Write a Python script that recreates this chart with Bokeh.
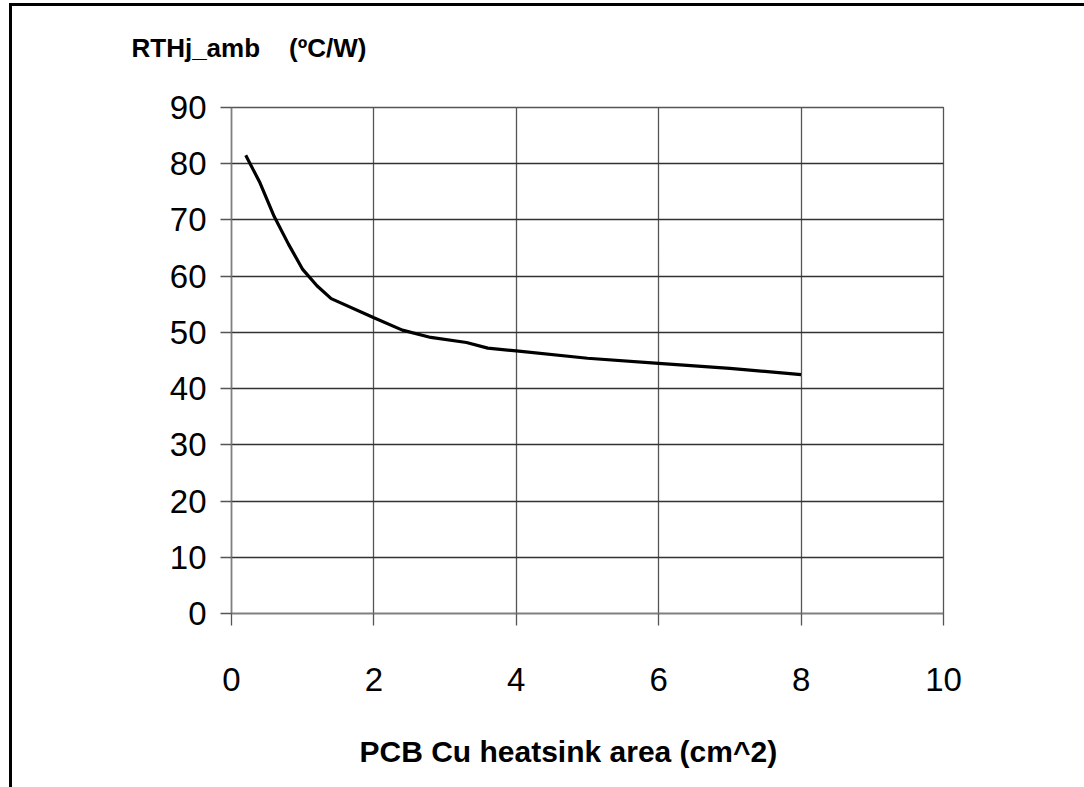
from bokeh.plotting import figure
from bokeh.models import Range1d, FixedTicker, Title
from bokeh.embed import file_html
from bokeh.resources import INLINE

# Data
area_cm2 = [0.2, 0.4, 0.6, 0.8, 1.0, 1.2, 1.4, 2.0, 2.4, 2.8, 3.3, 3.6, 4.0, 5.0, 6.0, 7.0, 8.0]
rth_j_amb = [81.5, 76.6, 70.6, 65.7, 61.2, 58.3, 56.0, 52.6, 50.4, 49.1, 48.2, 47.2, 46.7, 45.4, 44.5, 43.6, 42.5]
x_ticks = [0, 2, 4, 6, 8, 10]
y_ticks = [0, 10, 20, 30, 40, 50, 60, 70, 80, 90]
y_title = "RTHj_amb\u00a0\u00a0\u00a0\u00a0(ºC/W)"
x_title = "PCB Cu heatsink area (cm^2)"

FONT = "Liberation Sans"

p = figure(width=1084, height=787, output_backend="svg", toolbar_location=None, title=None,
           x_range=Range1d(0, 10), y_range=Range1d(0, 90),
           min_border_left=231, min_border_right=141, min_border_top=107, min_border_bottom=174)

p.background_fill_color = "white"
p.border_fill_alpha = 0
# page frame lines (left and top) drawn as CSS backgrounds of the figure element
p.styles = {
    "background-color": "white",
    "background-image": "linear-gradient(#000,#000), linear-gradient(#000,#000)",
    "background-position": "9px 3px, 9px 3px",
    "background-size": "3px 784px, 1075px 3px",
    "background-repeat": "no-repeat, no-repeat",
}
p.outline_line_color = "#555555"
p.outline_line_width = 1.3

p.xaxis.ticker = FixedTicker(ticks=x_ticks)
p.yaxis.ticker = FixedTicker(ticks=y_ticks)

for ax in (p.xaxis, p.yaxis):
    ax.axis_line_color = "#808080"
    ax.axis_line_width = 1.5
    ax.major_tick_line_color = "#555555"
    ax.major_tick_line_width = 1.3
    ax.major_tick_in = 0
    ax.minor_tick_line_color = None
    ax.major_label_text_font = FONT
    ax.major_label_text_font_size = "33px"
    ax.major_label_text_color = "black"

p.xaxis.major_tick_out = 12
p.yaxis.major_tick_out = 11
p.xaxis.major_label_standoff = 42
p.yaxis.major_label_standoff = 14

p.xgrid.ticker = FixedTicker(ticks=x_ticks)
p.ygrid.ticker = FixedTicker(ticks=y_ticks)
p.xgrid.grid_line_color = "#555555"
p.ygrid.grid_line_color = "#333333"
p.xgrid.grid_line_width = 1.3
p.ygrid.grid_line_width = 1.3

p.line(area_cm2, rth_j_amb, line_color="black", line_width=3.2)

# spacer panels (tiny blank titles) between frame and the titles
p.add_layout(Title(text="\u00a0", text_font_size="1px", standoff=42), "above")
yt = Title(text=y_title, align="left", offset=-100, text_font=FONT, text_font_size="26px",
           text_font_style="bold", text_color="black", standoff=0)
p.add_layout(yt, "above")

p.add_layout(Title(text="\u00a0", text_font_size="1px", standoff=36), "below")
xt = Title(text=x_title, align="left", offset=128, text_font=FONT, text_font_size="30px",
           text_font_style="bold", text_color="black", standoff=0)
p.add_layout(xt, "below")

open("out.html", "w").write(file_html(p, INLINE))
